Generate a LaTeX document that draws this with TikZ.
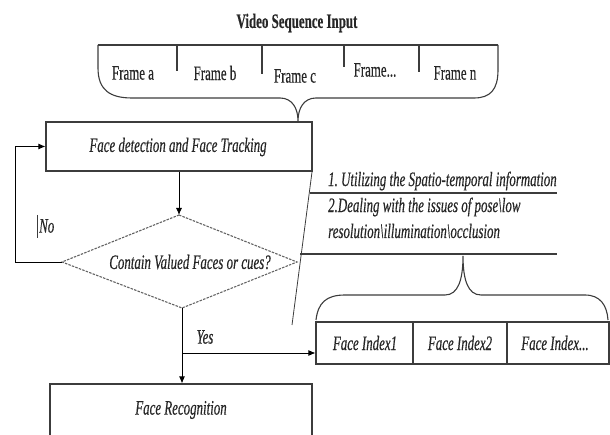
\documentclass[tikz,border=0pt]{standalone}
\usepackage{fontspec}
\usetikzlibrary{arrows.meta}
\newfontfamily\condserif[FakeStretch=0.63,FakeBold=0.4]{Liberation Serif}
\definecolor{ink}{HTML}{262626}
\definecolor{linec}{HTML}{3C3C3C}
\begin{document}
\begin{tikzpicture}[x=1pt,y=-1pt,
  txt/.style={text=ink,font=\condserif\fontsize{20.5}{22}\selectfont\itshape,inner sep=0pt},
  rtxt/.style={text=ink,font=\condserif\fontsize{20.5}{22}\selectfont,inner sep=0pt},
  ttl/.style={text=ink,font=\condserif\fontsize{20.5}{22}\selectfont\bfseries,inner sep=0pt},
  ln/.style={draw=linec,line width=1.1pt},
  boxs/.style={draw=linec,line width=1.1pt,inner sep=0pt},
  arr/.style={draw=black,line width=0.9pt,-{Latex[length=7pt,width=6pt]}},
  dsh/.style={draw=linec!80,line width=1.1pt,dash pattern=on 2.5pt off 1.2pt}]
\useasboundingbox (0,0) rectangle (610,435);
\clip (0,0) rectangle (610,435);

% title and frames
\node[ttl] (title) at (297,23) {Video Sequence Input};
\node[rtxt] (fa) at (133,73) {Frame a};
\node[rtxt] (fb) at (215,73) {Frame b};
\node[rtxt] (fc) at (295,76) {Frame c};
\node[rtxt] (fd3) at (375,70) {Frame...};
\node[rtxt] (fn) at (455,73) {Frame n};
\draw[ln] (98,45) -- (498,45);
\draw[ln] (177,45) -- (177,71);
\draw[ln] (262,45) -- (262,74);
\draw[ln] (344,45) -- (344,67);
\draw[ln] (419,45) -- (419,72);
\coordinate (tip) at (298,121);
\draw[ln] (98,45) -- (98,68) .. controls (98,90) and (110,98) .. (132,98) -- (280,98)
  .. controls (292,98) and (298,108) .. (tip)
  .. controls (298,108) and (304,98) .. (316,98) -- (474,98)
  .. controls (490,98) and (498,90) .. (498,70) -- (498,45);

% face detection box
\node[boxs,minimum width=266,minimum height=49] (fdt) at (179,146.5) {};
\node[txt] (fdtext) at (178,147) {Face detection and Face Tracking};

% diamond
\coordinate (dt) at (179,215);
\coordinate (dl) at (62,262);
\coordinate (dr) at (297,262);
\coordinate (db) at (182,308);
\draw[dsh] (dt) -- (dr) -- (db) -- (dl) -- cycle;
\node[txt] (dtext) at (190,262) {Contain Valued Faces or cues?};
\draw[arr] (fdt.south -| dt) -- (dt);

% feedback loop
\draw[arr] (dl) -- (15,262) |- (fdt.west);
\node[txt,anchor=west] (no) at (39,226) {No};
\draw[draw=linec,line width=0.8pt] (37,215) -- (37,238);

% face recognition
\node[boxs,minimum width=262,minimum height=70] (fr) at (181,419) {};
\node[txt] (frtext) at (181,410) {Face Recognition};
\draw[arr] (db) -- (db |- fr.north);
\coordinate (yb) at (182,353);
\node[txt] (yes) at (205,337) {Yes};

% face index boxes
\node[boxs,minimum width=97,minimum height=42] (fi1) at (364.5,343) {};
\node[boxs,minimum width=94,minimum height=42] (fi2) at (460,343) {};
\node[boxs,minimum width=102,minimum height=42] (fi3) at (558,343) {};
\node[txt] (fi1t) at (365,343) {Face Index1};
\node[txt] (fi2t) at (460,343) {Face Index2};
\node[txt] (fi3t) at (555,343) {Face Index...};
\draw[arr] (yb) -- (fi1.west |- yb);

% right text block
\node[txt,anchor=west] (t1) at (328,181) {1.\ Utilizing the Spatio-temporal information};
\draw[ln] (310,193) -- (557,193);
\node[txt,anchor=west] (t2) at (328,207) {2.Dealing with the issues of pose\textbackslash low};
\node[txt,anchor=west] (t3) at (328,231) {resolution\textbackslash illumination\textbackslash occlusion};
\draw[ln] (300,254) -- (557,254);
\draw[draw=linec,line width=0.8pt] (312,172) -- (292,325);

% lower brace
\coordinate (tip2) at (463,256);
\draw[ln] (316,320) .. controls (318,303) and (326,295) .. (345,295) -- (445,295)
  .. controls (458,295) and (463,280) .. (tip2)
  .. controls (463,280) and (468,295) .. (481,295) -- (585,295)
  .. controls (600,295) and (607,305) .. (608,320);
\end{tikzpicture}
\end{document}
